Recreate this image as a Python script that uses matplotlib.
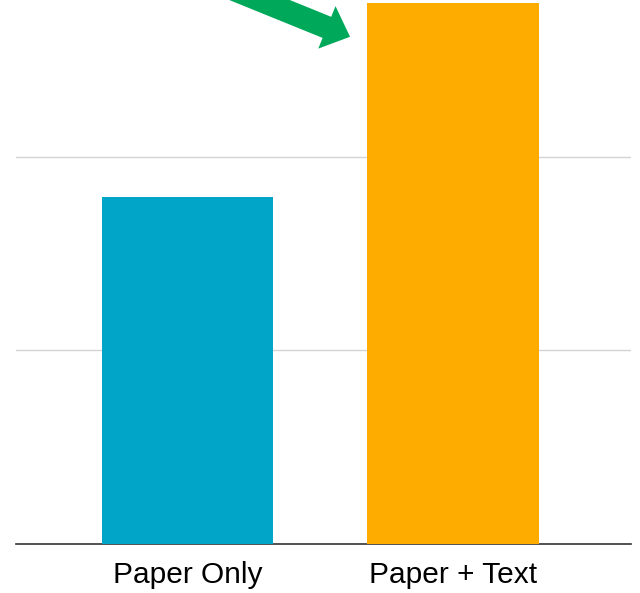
import matplotlib
matplotlib.use("Agg")
import matplotlib.pyplot as plt

categories = ["Paper Only", "Paper + Text"]
values = [17.9, 27.95]
colors = ["#00A5C7", "#FFAC00"]
grid_values = [10, 20]

fig = plt.figure(figsize=(6.4, 5.93), dpi=100)
ax = fig.add_axes([16/640, 49/593, 615/640, 544/593])
x = list(range(len(categories)))
ax.bar(x, values, width=0.645, color=colors, zorder=3)
ax.set_xlim(-0.646, 1.670)
ax.set_ylim(0, 28.1)
for g in grid_values:
    ax.axhline(g, color="#d3d3d3", lw=1, zorder=1)
ax.set_yticks([])
ax.set_xticks(x)
ax.set_xticklabels(categories, fontsize=21.5, family=["Liberation Sans", "DejaVu Sans"])
ax.tick_params(axis="x", length=0, pad=12)
for s in ["top", "right", "left"]:
    ax.spines[s].set_visible(False)
ax.spines["bottom"].set_color("#333333")
ax.spines["bottom"].set_linewidth(1.2)

ax.annotate("", xy=(0.612, 26.2), xytext=(-0.07, 30.0),
            arrowprops=dict(arrowstyle="simple,head_length=0.9,head_width=1.65,tail_width=0.82",
                            mutation_scale=20, color="#00A85A", lw=0, shrinkA=0, shrinkB=0),
            annotation_clip=False, zorder=5)

fig.savefig("out.png", dpi=100)
